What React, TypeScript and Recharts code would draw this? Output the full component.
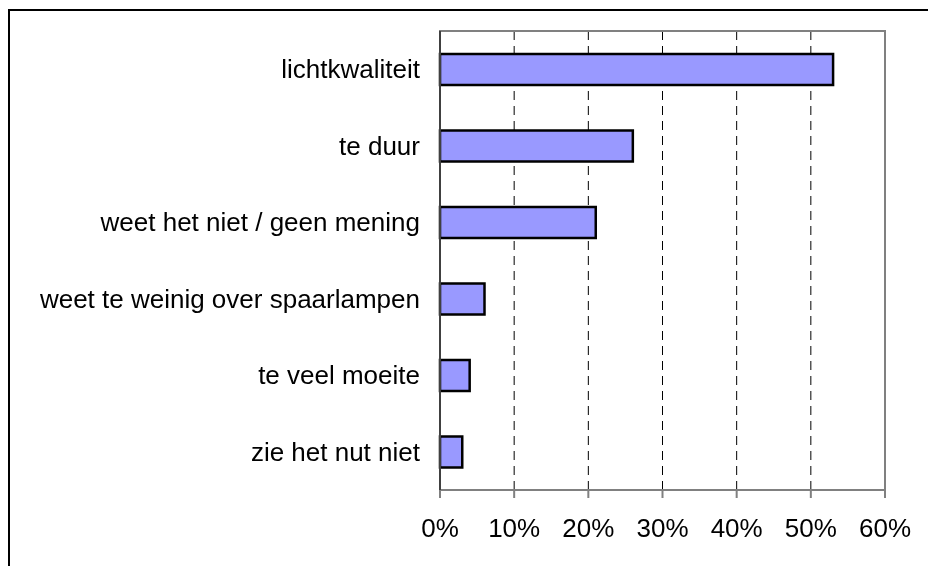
import { Bar, BarChart, CartesianGrid, ReferenceArea, XAxis, YAxis } from "recharts";

const reasons = [
  "lichtkwaliteit",
  "te duur",
  "weet het niet / geen mening",
  "weet te weinig over spaarlampen",
  "te veel moeite",
  "zie het nut niet",
];
const shares = [53, 26, 21, 6, 4, 3];
const xTicks = [0, 10, 20, 30, 40, 50, 60];

const data = reasons.map((name, i) => ({ name, value: shares[i] }));

const font = "'Liberation Sans', Arial, sans-serif";

export default function App() {
  return (
    <div
      style={{
        position: "fixed",
        top: 9,
        left: 8,
        width: 940,
        height: 580,
        borderTop: "2px solid #000",
        borderLeft: "2px solid #000",
        overflow: "hidden",
      }}
    >
      <BarChart
        width={918}
        height={555}
        data={data}
        layout="vertical"
        margin={{ top: 20, right: 43, bottom: 36, left: 0 }}
        style={{ fontFamily: font }}
      >
        <CartesianGrid horizontal={false} stroke="#000" strokeDasharray="9 6" />
        <XAxis
          type="number"
          domain={[0, 60]}
          ticks={xTicks}
          tickFormatter={(v) => `${v}%`}
          axisLine={{ stroke: "#808080", strokeWidth: 2 }}
          tickLine={{ stroke: "#808080", strokeWidth: 2 }}
          tickSize={8}
          tickMargin={21}
          height={40}
          tick={{ fill: "#000", fontSize: 26, fontFamily: font }}
        />
        <YAxis
          type="category"
          dataKey="name"
          width={430}
          tickLine={false}
          tickSize={0}
          tickMargin={20}
          axisLine={{ stroke: "#404040", strokeWidth: 2 }}
          tick={{ fill: "#000", fontSize: 26, fontFamily: font }}
        />
        <ReferenceArea x1={0} x2={60} fill="none" stroke="#808080" strokeWidth={2} ifOverflow="visible" />
        <Bar dataKey="value" barSize={31} fill="#9999FF" stroke="#000" strokeWidth={2.5} isAnimationActive={false} />
      </BarChart>
    </div>
  );
}
